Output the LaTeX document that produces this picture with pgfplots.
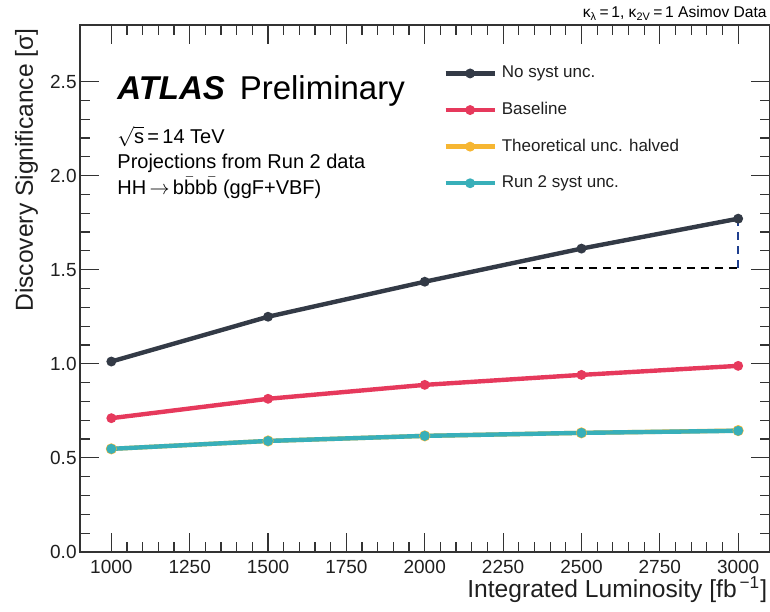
\documentclass[border=0pt]{standalone}
\usepackage{fontspec}
\setmainfont{Liberation Sans}
\usepackage{pgfplots}
\pgfplotsset{compat=1.18}
\definecolor{cNo}{HTML}{333A46}
\definecolor{cBase}{HTML}{E6395C}
\definecolor{cTheo}{HTML}{F6B632}
\definecolor{cRun}{HTML}{38AFB9}
\definecolor{cFrame}{HTML}{333333}
\definecolor{cDashV}{HTML}{1F3F8F}
\begin{document}
\begin{tikzpicture}
\begin{axis}[
  scale only axis,
  width=344.75pt, height=263.5pt,
  xmin=900, xmax=3100, ymin=0, ymax=2.8,
  xtick={1000,1250,...,3000},
  ytick={0,0.5,...,2.5},
  minor x tick num=4,
  minor y tick num=4,
  tick align=inside,
  xtick pos=both, ytick pos=both,
  major tick length=9.5pt,
  minor tick length=5pt,
  axis line style={cFrame, line width=0.75pt},
  every tick/.style={cFrame, line width=0.6pt},
  /pgf/number format/assume math mode=true,
  /pgf/number format/1000 sep={},
  yticklabel style={/pgf/number format/fixed, /pgf/number format/fixed zerofill, /pgf/number format/precision=1, inner sep=0pt, xshift=-1.5pt},
  xticklabel style={inner sep=0pt, yshift=-4pt},
  tick label style={font=\fontsize{9.5}{11}\selectfont, text=black!88},
  xlabel={Integrated Luminosity [fb\textsuperscript{\,−1}]},
  ylabel={Discovery Significance [σ]},
  label style={font=\fontsize{12.3}{14}\selectfont, text=black!88},
  xlabel style={at={(axis description cs:0.9971,-0.0854)}, anchor=base east, inner sep=0pt},
  ylabel style={at={(axis description cs:-0.0682,0.9943)}, anchor=base east, inner sep=0pt},
  legend image code/.code={\draw[#1, line width=2.2pt] (0pt,0pt) -- (24.5pt,0pt); \fill[#1] (12.25pt,0pt) circle (1.3pt);},
  legend style={at={(axis description cs:0.5265,0.924)}, anchor=north west, draw=none, fill=none, inner sep=0pt,
     font=\fontsize{8.5}{10}\selectfont, row sep=10.3pt, column sep=2.5pt,
     nodes={inner sep=0pt, text height=6.2pt, text depth=1.8pt, text=black!88}},
  legend cell align=left,
  clip=false,
]
\addplot[cNo, line width=2.2pt, mark=*, mark size=1.3pt] coordinates {
  (1000,1.012) (1500,1.250) (2000,1.436) (2500,1.612) (3000,1.771)};
\addlegendentry{No syst unc.}
\addplot[cBase, line width=2.2pt, mark=*, mark size=1.3pt] coordinates {
  (1000,0.711) (1500,0.814) (2000,0.888) (2500,0.941) (3000,0.989)};
\addlegendentry{Baseline}
\addplot[cTheo, line width=2.2pt, mark=*, mark size=1.6pt] coordinates {
  (1000,0.548) (1500,0.590) (2000,0.617) (2500,0.633) (3000,0.645)};
\addlegendentry{Theoretical unc. halved}
\addplot[cRun, line width=2.2pt, mark=*, mark size=1.3pt] coordinates {
  (1000,0.548) (1500,0.590) (2000,0.617) (2500,0.633) (3000,0.644)};
\addlegendentry{Run 2 syst unc.}
\draw[black, line width=0.9pt, dash pattern=on 4pt off 3pt] (axis cs:2300,1.51) -- (axis cs:3000,1.51);
\draw[cDashV, line width=0.9pt, dash pattern=on 4pt off 3pt] (axis cs:3000,1.51) -- (axis cs:3000,1.771);
\node[anchor=base west, inner sep=0pt, font=\fontsize{16.5}{18}\selectfont] at (axis description cs:0.0537,0.858) {{\bfseries\itshape ATLAS}\hspace{0.45em}Preliminary};
\node[anchor=base west, inner sep=0pt, font=\fontsize{10}{12}\selectfont] at (axis description cs:0.0537,0.776) {$\sqrt{\mbox{s}}$\,=\,14 TeV};
\node[anchor=base west, inner sep=0pt, font=\fontsize{10}{12}\selectfont] at (axis description cs:0.0537,0.727) {Projections from Run 2 data};
\node[anchor=base west, inner sep=0pt, font=\fontsize{10}{12}\selectfont] at (axis description cs:0.0537,0.678) {HH\,$\rightarrow$\,b$\bar{\mbox{b}}$b$\bar{\mbox{b}}$ (ggF+VBF)};
\node[anchor=base east, inner sep=0pt, font=\fontsize{7.8}{9}\selectfont] at (axis description cs:0.9964,1.0133) {κ\textsubscript{λ}\,=\,1, κ\textsubscript{2V}\,=\,1 Asimov Data};
\end{axis}
\pgfresetboundingbox
\path ([xshift=-40pt,yshift=-29.5pt]current axis.south west) rectangle ([xshift=0.25pt,yshift=12.5pt]current axis.north east);
\end{tikzpicture}
\end{document}
